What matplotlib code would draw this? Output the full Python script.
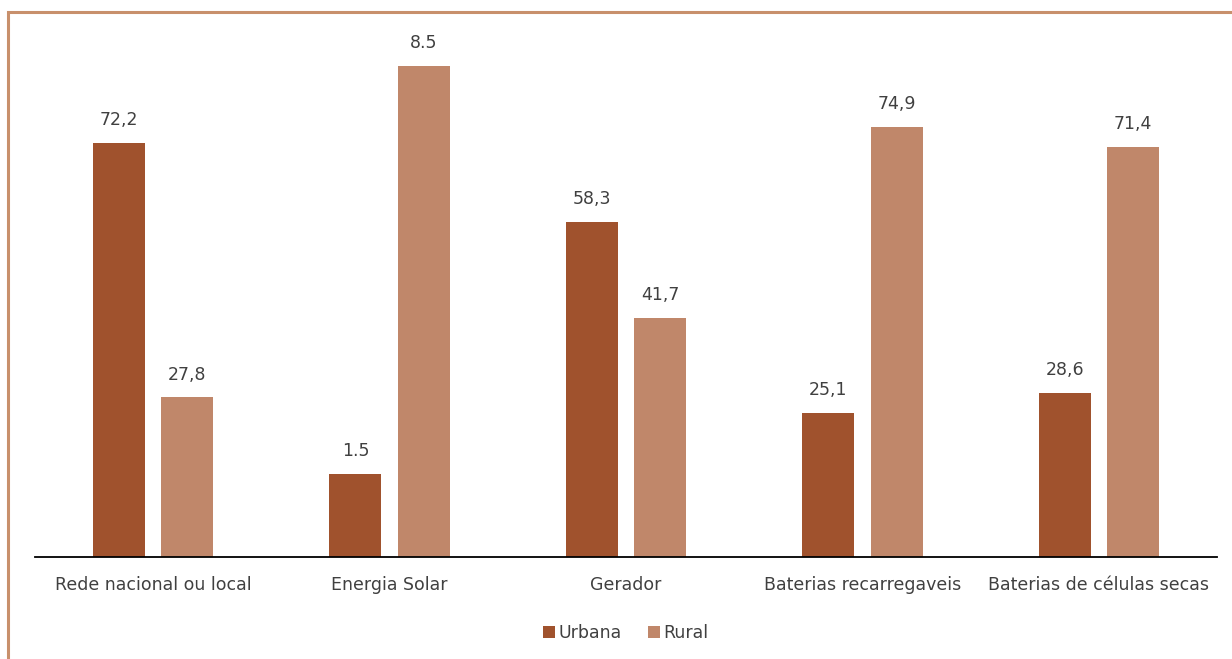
import matplotlib
matplotlib.use("Agg")
import matplotlib.pyplot as plt
import numpy as np
from matplotlib.patches import Rectangle

# data
categories = ["Rede nacional ou local", "Energia Solar", "Gerador",
              "Baterias recarregaveis", "Baterias de células secas"]
urbana = [72.2, 14.5, 58.3, 25.1, 28.6]
rural = [27.8, 85.5, 41.7, 74.9, 71.4]
# labels as printed on the chart (the solar ones are cut short in the source)
urbana_labels = ["72,2", "1.5", "58,3", "25,1", "28,6"]
rural_labels = ["27,8", "8.5", "41,7", "74,9", "71,4"]

c_urb = "#A0522D"
c_rur = "#C0876A"
c_txt = "#404040"
c_border = "#C8906C"

fig = plt.figure(figsize=(12.32, 6.59), dpi=100)

# orange frame (cropped on the right and bottom in the source)
fig.patches.append(Rectangle((8 / 1232, -0.05), 1.2, (659 - 12) / 659 + 0.05,
                             transform=fig.transFigure, fill=False,
                             edgecolor=c_border, linewidth=2.2))

ax = fig.add_axes([35 / 1232, (659 - 557) / 659, 1182 / 1232, 516.6 / 659])

x = np.arange(len(categories))
w = 0.22
off = 0.1445
b1 = ax.bar(x - off, urbana, w, color=c_urb, label="Urbana")
b2 = ax.bar(x + off, rural, w, color=c_rur, label="Rural")

for bars, labs in ((b1, urbana_labels), (b2, rural_labels)):
    for bar, lab in zip(bars, labs):
        ax.annotate(lab, (bar.get_x() + bar.get_width() / 2, bar.get_height()),
                    xytext=(0, 10), textcoords="offset points",
                    ha="center", va="bottom", fontsize=12.5, color=c_txt)

ax.set_xlim(-0.5, len(categories) - 0.5)
ax.set_ylim(0, 90)
ax.set_xticks(x)
ax.set_xticklabels(categories, fontsize=12.5, color=c_txt)
ax.tick_params(axis="x", length=0, pad=14)
ax.set_yticks([])
for s in ("top", "right", "left"):
    ax.spines[s].set_visible(False)
ax.spines["bottom"].set_color("black")
ax.spines["bottom"].set_linewidth(1.3)

leg = ax.legend(loc="upper center", bbox_to_anchor=(0.5, -0.1), ncol=2,
                frameon=False, fontsize=12.5, handlelength=0.7, handleheight=0.7,
                handletextpad=0.2, columnspacing=1.5, labelcolor=c_txt)

fig.savefig("out.png", dpi=100)
